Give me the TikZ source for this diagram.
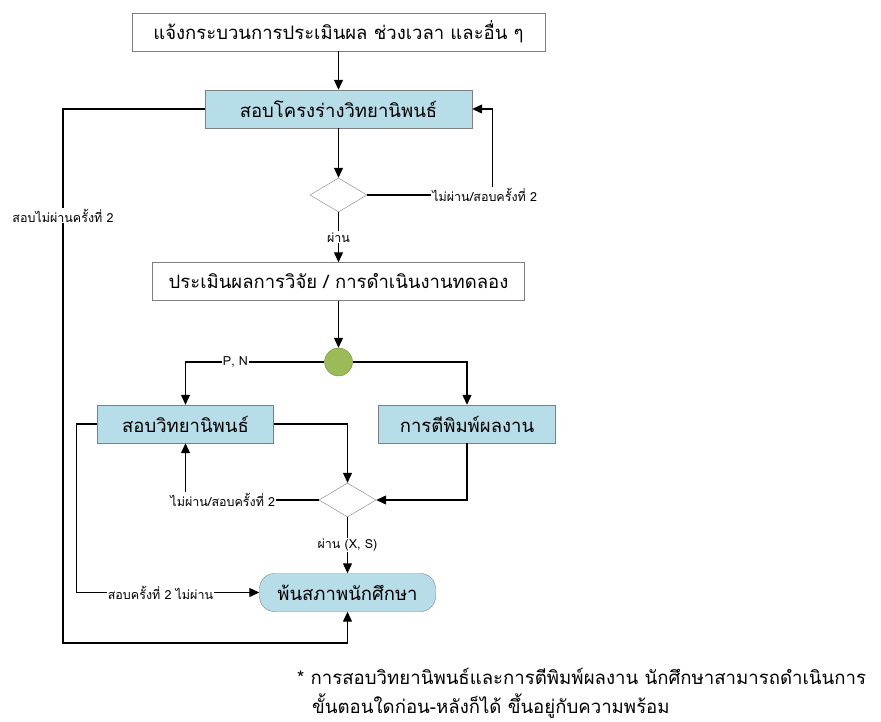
\documentclass[tikz,border=0pt]{standalone}
\usepackage{fontspec}
\newfontfamily\thaifont[Script=Thai]{Loma}
\usetikzlibrary{arrows,arrows.meta,shapes,calc,positioning}
\definecolor{boxblue}{RGB}{183,221,232}
\definecolor{boxgray}{RGB}{127,127,127}
\definecolor{nodegreen}{RGB}{155,187,89}
\definecolor{greenedge}{RGB}{113,137,63}
\tikzset{
    block/.style = {draw=boxgray, rectangle, fill=white,
        minimum height=38pt, inner sep=0pt,
        font=\thaifont\fontsize{18.5}{22}\selectfont, align=center},
    task/.style = {block, fill=boxblue},
    terminal/.style = {task, rounded corners=15pt},
    decision/.style = {draw=boxgray, diamond, fill=white,
        minimum width=57pt, minimum height=34pt, inner sep=0pt},
    junction/.style = {draw=greenedge, circle, fill=nodegreen,
        minimum size=28pt, inner sep=0pt},
    lbl/.style = {fill=white, inner sep=1pt, font=\thaifont\fontsize{12.5}{14}\selectfont},
    note/.style = {inner sep=0pt, font=\thaifont\fontsize{18.6}{22}\selectfont},
    arrow/.style = {draw, ->, line width=1.2pt}
}

\begin{document}
\begin{tikzpicture}[x=1pt, y=1pt, >={Triangle[length=10pt,width=9pt]}]
        \useasboundingbox (0,0) rectangle (881,-722);
        \node [block, minimum width=413pt] (notify) at (338.5,-32) {แจ้งกระบวนการประเมินผล ช่วงเวลา และอื่น ๆ};
        \node [task, below of=notify, node distance=77pt, minimum width=267pt] (proposal) {สอบโครงร่างวิทยานิพนธ์};
        \draw[arrow] (notify) -- (proposal);
        \node [decision, below of=proposal, node distance=86pt] (dec1) {};
        \draw[arrow] (proposal) -- (dec1);
        \node [block, below of=dec1, node distance=86.5pt, minimum width=372pt] (evaluate) {ประเมินผลการวิจัย / การดำเนินงานทดลอง};
        \draw[arrow] (dec1) -- node[lbl]{ผ่าน} (evaluate);
        \coordinate (retry1) at ($(proposal.east)+(20,0)$);
        \draw[arrow] (dec1.east) -| node[lbl, pos=0.47]{ไม่ผ่าน/สอบครั้งที่ 2} (retry1) -- (proposal.east);
        \node [junction, below of=evaluate, node distance=80.5pt] (split) {};
        \draw[arrow] (evaluate) -- (split);
        \node [task, minimum width=176pt] at ($(split)+(-153,-62)$) (thesis) {สอบวิทยานิพนธ์};
        \node [task, minimum width=177pt] at ($(split)+(128.5,-62)$) (publish) {การตีพิมพ์ผลงาน};
        \draw[arrow] (split.west) -| node[lbl, pos=0.32]{P, N} (thesis.north);
        \draw[arrow] (split.east) -| (publish.north);
        \node [decision] at ($(split)+(9,-138)$) (dec2) {};
        \draw[arrow] (thesis.east) -| (dec2.north);
        \draw[arrow] (publish.south) |- (dec2.east);
        \draw[arrow] (dec2.west) -| node[lbl, pos=0.36]{ไม่ผ่าน/สอบครั้งที่ 2} (thesis.south);
        \node [terminal, below of=dec2, node distance=92.5pt, minimum width=176pt] (dropout) {พ้นสภาพนักศึกษา};
        \draw[arrow] (dec2) -- node[lbl]{ผ่าน (X, S)} (dropout);
        \coordinate (rail2) at ($(thesis.west)+(-21,0)$);
        \draw[arrow] (thesis.west) -- (rail2) |- node[lbl, pos=0.73]{สอบครั้งที่ 2 ไม่ผ่าน} (dropout.west);
        \coordinate (rail1) at (63,-643);
        \draw[arrow] (proposal.west) -| node[lbl, pos=0.6]{สอบไม่ผ่านครั้งที่ 2} (rail1) -| (dropout.south);
        % footnote
        \node [note, anchor=base west] at (297,-684) (note1) {* การสอบวิทยานิพนธ์และการตีพิมพ์ผลงาน นักศึกษาสามารถดำเนินการ};
        \node [note, anchor=base west] at (312,-713) (note2) {ขั้นตอนใดก่อน-หลังก็ได้ ขึ้นอยู่กับความพร้อม};
    \end{tikzpicture}
\end{document}
